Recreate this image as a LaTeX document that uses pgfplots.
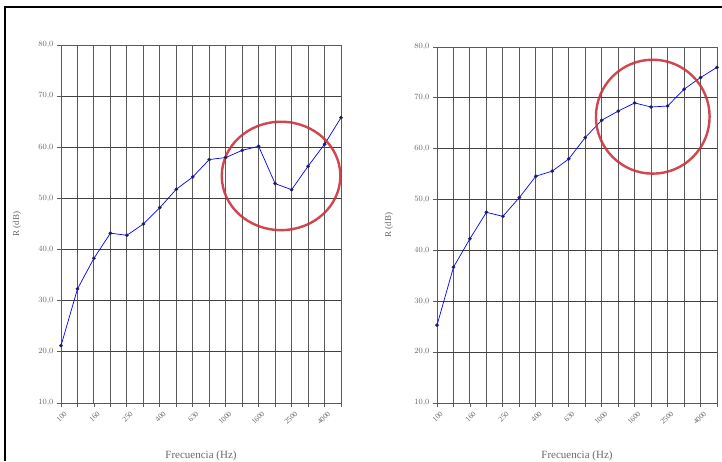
\documentclass[border=0pt]{standalone}
\usepackage{pgfplots}
\pgfplotsset{compat=1.18}
\usepackage{fontspec}
\setmainfont{Liberation Serif}
\definecolor{gridc}{RGB}{90,90,90}
\definecolor{hgridc}{RGB}{65,65,65}
\definecolor{txt}{RGB}{105,105,105}
\definecolor{linec}{RGB}{100,100,135}
\definecolor{markc}{RGB}{45,45,70}
\definecolor{circ}{RGB}{205,50,60}
\pgfplotsset{myax/.style={
  scale only axis, width=280pt, anchor=south west,
  xmin=0, xmax=17, ymin=10, ymax=80,
  xtick={0,2,...,16},
  xticklabels={100,160,250,400,630,1000,1600,2500,4000},
  minor xtick={1,3,...,17},
  ytick={10,20,...,80},
  xmajorgrids, xminorgrids, ymajorgrids,
  x grid style={gridc, line width=0.9pt},
  minor x grid style={gridc, line width=0.9pt},
  y grid style={hgridc, line width=1pt},
  axis line style={gridc, line width=0.9pt},
  tick style={gridc, line width=0.8pt}, tick align=outside,
  major tick length=4pt, minor tick length=4pt,
  tick pos=left,
  xticklabel style={rotate=45, anchor=north east, font=\fontsize{7.5}{8}\selectfont, text=txt, inner sep=0.5pt, yshift=-4pt},
  yticklabel style={font=\fontsize{8}{9}\selectfont, text=txt, /pgf/number format/.cd, fixed, fixed zerofill, precision=1, use comma},
  xlabel={Frecuencia (Hz)}, ylabel={R (dB)},
  xlabel style={at={(axis description cs:0.5,-0.148)}, anchor=center, font=\fontsize{11}{12}\selectfont, text=txt},
  ylabel style={anchor=center, font=\fontsize{9}{10}\selectfont, text=txt},
  clip=false,
  every axis plot/.append style={color=linec, line width=0.7pt, mark=*, mark size=1.5pt, mark options={fill=markc, draw=markc}},
}}
\begin{document}
\begin{tikzpicture}
\path[use as bounding box] (0,0) rectangle (722pt,461pt);
\fill[white] (0,0) rectangle (722pt,461pt);
\draw[black, line width=1.3pt] (5pt,0) -- (5pt,454pt) -- (722pt,454pt);
\begin{axis}[myax, at={(61pt,58pt)}, height=358pt,
  ylabel style={at={(axis description cs:-0.157,0.5)}}]
\addplot coordinates {(0,21.2) (1,32.3) (2,38.3) (3,43.2) (4,42.8) (5,45.0) (6,48.2) (7,51.8) (8,54.2) (9,57.6) (10,58.0) (11,59.4) (12,60.2) (13,52.9) (14,51.7) (15,56.3) (16,60.6) (17,65.8)};
\draw[circ, line width=2.4pt, opacity=0.9] (axis cs:13.36,54.4) ellipse [x radius=3.6, y radius=10.6];
\end{axis}
\begin{axis}[myax, at={(437pt,58pt)}, height=356pt,
  ylabel style={at={(axis description cs:-0.172,0.5)}}]
\addplot coordinates {(0,25.3) (1,36.7) (2,42.3) (3,47.5) (4,46.7) (5,50.4) (6,54.6) (7,55.6) (8,58.0) (9,62.2) (10,65.6) (11,67.4) (12,69.0) (13,68.2) (14,68.4) (15,71.7) (16,74.0) (17,76.0)};
\draw[circ, line width=2.4pt, opacity=0.9] (axis cs:13.1,66.3) ellipse [x radius=3.45, y radius=11.2];
\end{axis}
\end{tikzpicture}
\end{document}
